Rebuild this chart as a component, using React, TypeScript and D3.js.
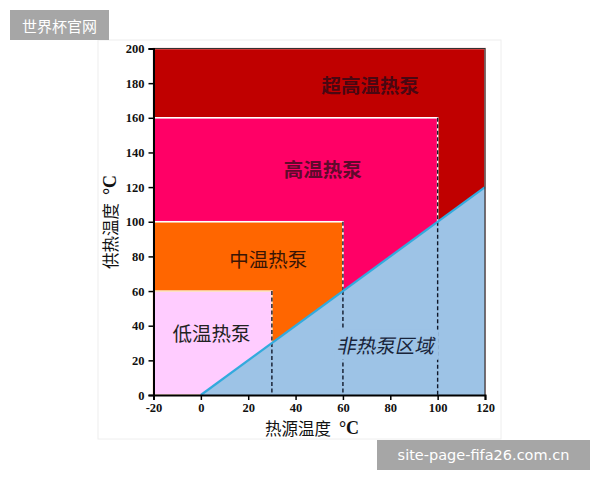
import { useEffect, useRef } from "react";
import * as d3 from "d3";

// heat pump zones: max source temperature / max supply temperature (°C)
const zoneNames = ["超高温热泵", "高温热泵", "中温热泵", "低温热泵"];
const zoneSourceMax = [120, 100, 60, 30];
const zoneSupplyMax = [200, 160, 100, 60];
const zoneColors = ["#C00000", "#FF0066", "#FF6600", "#FFCCFF"];
const zoneStrokes = ["#F2B8B8", "#FFFFFF", "#FFFFFF", "#FCE4C0"];
const zoneTextColors = ["#4A0712", "#5E0A2C", "#3A1505", "#222222"];
// label anchor for each zone (source °C, supply °C)
const zoneLabelX = [71.5, 51.5, 28.5, 4.5];
const zoneLabelY = [179.5, 131, 78.5, 36];

// boundary: supply temperature equals source temperature
const boundarySource = [0, 120];
const boundarySupply = [0, 120];
const nonPumpName = "非热泵区域";
const nonPumpLabel = [78.5, 29];

const xTicks = [-20, 0, 20, 40, 60, 80, 100, 120];
const yTicks = [0, 20, 40, 60, 80, 100, 120, 140, 160, 180, 200];

const App = () => {
    const xAxisRef = useRef<SVGGElement | null>(null);
    const yAxisRef = useRef<SVGGElement | null>(null);

    const x = d3.scaleLinear().domain([-20, 120]).range([153.5, 485]);
    const y = d3.scaleLinear().domain([0, 200]).range([395, 48.5]);

    useEffect(() => {
        if (!xAxisRef.current || !yAxisRef.current) return;
        const fmt = (d: d3.NumberValue) => String(d); // keep plain hyphen for -20
        const xa = d3.select(xAxisRef.current);
        xa.selectAll("*").remove();
        xa.call(d3.axisBottom(x).tickValues(xTicks).tickFormat(fmt).tickSize(5).tickPadding(3));
        const ya = d3.select(yAxisRef.current);
        ya.selectAll("*").remove();
        ya.call(d3.axisLeft(y).tickValues(yTicks).tickFormat(fmt).tickSize(5).tickPadding(4));
        [xa, ya].forEach((g) => {
            g.select(".domain").attr("stroke", "#000").attr("stroke-width", 2);
            g.selectAll(".tick line").attr("stroke", "#000").attr("stroke-width", 1.5);
            g.selectAll(".tick text")
                .attr("fill", "#111")
                .style("font-family", "'Liberation Serif', serif")
                .style("font-weight", "bold")
                .style("font-size", "12.5px");
        });
    }, []);

    const cnFont = "'Noto Sans CJK SC', sans-serif";
    const boundary = d3.line<number>()
        .x((_, i) => x(boundarySource[i]))
        .y((d) => y(d));
    const triangle = `M${x(boundarySource[0])},${y(0)} L${x(boundarySource[1])},${y(boundarySupply[1])} L${x(boundarySource[1])},${y(0)} Z`;
    const skew = Math.tan((12 * Math.PI) / 180);

    return (
        <svg width={600} height={480} style={{ position: "absolute", left: 0, top: 0, background: "#fff" }}>
            {/* card */}
            <rect x={98} y={40} width={403} height={399} fill="#fff" stroke="#eeeeee" />

            {/* zones, outermost first */}
            {zoneNames.map((name, i) => (
                <rect
                    key={name}
                    x={x(-20)}
                    y={y(zoneSupplyMax[i])}
                    width={x(zoneSourceMax[i]) - x(-20)}
                    height={y(0) - y(zoneSupplyMax[i])}
                    fill={zoneColors[i]}
                    stroke={zoneStrokes[i]}
                    strokeWidth={1.6}
                />
            ))}

            {/* dashed boundaries of inner zones */}
            {zoneNames.slice(1).map((name, j) => (
                <line
                    key={"d" + name}
                    x1={x(zoneSourceMax[j + 1])}
                    x2={x(zoneSourceMax[j + 1])}
                    y1={y(zoneSupplyMax[j + 1])}
                    y2={y(0)}
                    stroke="#1a1a2a"
                    strokeWidth={1.4}
                    strokeDasharray="4,2.5"
                />
            ))}

            {/* non heat pump region */}
            <path d={triangle} fill="#9DC3E6" />
            {zoneNames.slice(1).map((name, j) => {
                const xv = zoneSourceMax[j + 1];
                return (
                    <line
                        key={"b" + name}
                        x1={x(xv)}
                        x2={x(xv)}
                        y1={y(Math.min(xv, zoneSupplyMax[j + 1]))}
                        y2={y(0)}
                        stroke="#10182a"
                        strokeWidth={1.4}
                        strokeDasharray="4,2.5"
                    />
                );
            })}
            <path d={boundary(boundarySupply) ?? ""} stroke="#33AADD" strokeWidth={2.2} fill="none" />

            {/* label backing to break dashed lines */}
            <rect x={x(nonPumpLabel[0]) - 52} y={y(nonPumpLabel[1]) - 15} width={104} height={30} fill="#9DC3E6" />
            <text
                x={x(nonPumpLabel[0])}
                y={y(nonPumpLabel[1])}
                textAnchor="middle"
                dominantBaseline="central"
                fontFamily={cnFont}
                fontSize={19.5}
                fill="#18243a"
                transform={`translate(${y(nonPumpLabel[1]) * skew},0) skewX(-12)`}
            >
                {nonPumpName}
            </text>

            {zoneNames.map((name, i) => (
                <text
                    key={"t" + name}
                    x={x(zoneLabelX[i])}
                    y={y(zoneLabelY[i])}
                    textAnchor="middle"
                    dominantBaseline="central"
                    fontFamily={cnFont}
                    fontWeight={i < 2 ? "bold" : "normal"}
                    fontSize={19.5}
                    fill={zoneTextColors[i]}
                >
                    {name}
                </text>
            ))}

            {/* frame */}
            <path d={`M${x(-20)},${y(200)} H${x(120)} V${y(0)}`} fill="none" stroke="#333" strokeWidth={1.2} />

            <g ref={xAxisRef} transform={`translate(0,${y(0)})`} />
            <g ref={yAxisRef} transform={`translate(${x(-20)},0)`} />

            {/* axis titles */}
            <text x={312} y={427.5} textAnchor="middle" dominantBaseline="central" fontSize={16.5} fill="#111">
                <tspan fontFamily={cnFont}>热源温度</tspan>
                <tspan fontFamily="'Liberation Serif', serif" fontWeight="bold" fontSize={18} dx={8}>°C</tspan>
            </text>
            <text
                transform="translate(110,222) rotate(-90)"
                textAnchor="middle"
                dominantBaseline="central"
                fontSize={16.5}
                fill="#111"
            >
                <tspan fontFamily={cnFont}>供热温度</tspan>
                <tspan fontFamily="'Liberation Serif', serif" fontWeight="bold" fontSize={18} dx={8}>°C</tspan>
            </text>

            {/* watermarks */}
            <rect x={10} y={10} width={99} height={30} fill="#a6a6a6" />
            <text x={59.5} y={25} textAnchor="middle" dominantBaseline="central" fontFamily={cnFont} fontSize={15} fill="#fff">
                世界杯官网
            </text>
            <rect x={377} y={440} width={213} height={30} fill="#a6a6a6" />
            <text x={483.5} y={455} textAnchor="middle" dominantBaseline="central" fontFamily="'DejaVu Sans', sans-serif" fontSize={14.5} fill="#fff">
                site-page-fifa26.com.cn
            </text>
        </svg>
    );
};

export default App;
